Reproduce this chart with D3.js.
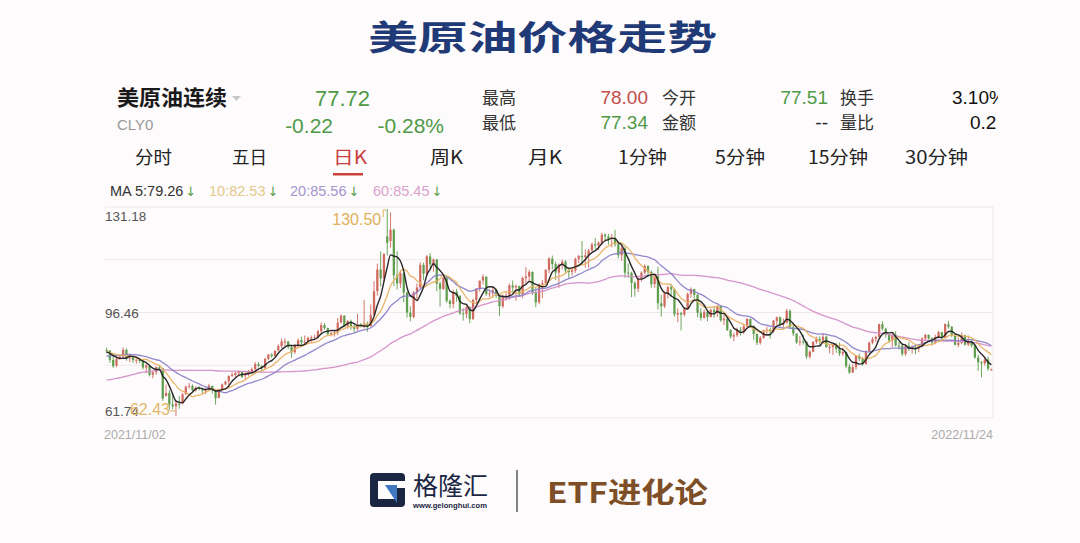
<!DOCTYPE html>
<html><head><meta charset="utf-8">
<script src="https://cdn.jsdelivr.net/npm/d3@7"></script>
<style>html,body{margin:0;padding:0;background:#fdfbfb;}svg{display:block}</style>
</head><body><svg id="c" width="1080" height="543"></svg>
<script>
// ---------------- DATA ----------------
const titleText = "美原油价格走势";
const instrumentName = "美原油连续";
const instrumentCode = "CLY0";
const lastPrice = "77.72";
const changeAbs = "-0.22";
const changePct = "-0.28%";
const statLabels = ["最高", "最低", "今开", "金额", "换手", "量比"];
const statValues = ["78.00", "77.34", "77.51", "--", "3.10%", "0.2"];
const tabLabels = ["分时", "五日", "日K", "周K", "月K", "1分钟", "5分钟", "15分钟", "30分钟"];
const activeTab = 2;
const maPeriods = [5, 10, 20, 60];
const maLegendValues = [79.26, 82.53, 85.56, 85.45];
const yTickValues = [131.18, 96.46, 61.74];
const dateLabels = ["2021/11/02", "2022/11/24"];
const brandName = "格隆汇";
const brandUrl = "www.gelonghui.com";
const footerText = "ETF进化论";

// closes before the first visible day (2021/08/09 .. 2021/11/01), used for the moving averages
const historyCloses = [66.48,68.29,69.25,69.09,68.44,67.29,66.59,65.46,63.69,62.32,65.64,67.54,68.36,67.42,68.74,69.21,68.50,
68.59,69.99,69.29,68.35,69.30,67.71,69.72,70.45,70.46,72.61,72.61,71.97,70.29,70.49,72.23,73.30,73.98,75.45,75.29,74.83,75.03,
75.88,77.62,78.93,77.43,78.30,79.35,80.52,80.64,80.44,81.31,82.28,82.44,82.96,83.87,82.50,83.76,83.76,84.65,82.66,82.81,83.57,
84.05];

// daily candles 2021/11/02 .. 2022/11/24
const opens = [
84.05,83.95,80.86,79.00,81.50,81.95,84.20,81.40,81.60,80.70,80.80,80.60,78.30,78.90,76.00,76.80,78.40,78.10,69.00,70.00,
66.20,65.60,66.40,66.50,69.60,72.10,72.30,70.90,71.70,71.20,70.70,70.90,72.30,70.50,68.40,71.10,72.80,73.80,75.60,75.90,76.50,76.90,
75.70,76.10,76.90,77.80,79.50,78.90,78.20,81.20,82.60,82.10,84.00,85.40,86.90,86.90,85.10,83.40,85.60,87.40,86.60,87.00,
88.20,88.20,88.30,90.30,92.30,91.30,89.40,89.70,89.90,93.20,95.40,92.10,93.60,91.80,91.10,92.40,92.10,92.80,92.00,
95.70,103.50,110.60,107.70,121.50,120.00,123.70,108.70,106.00,109.30,103.00,96.40,95.00,103.00,104.70,112.10,109.30,114.90,112.30,113.90,106.00,104.20,107.80,
100.30,99.30,103.30,102.00,96.20,96.00,98.30,94.30,100.60,104.30,107.00,108.20,102.60,102.80,103.80,102.10,98.50,101.70,102.00,105.40,
104.70,105.20,102.40,107.80,108.30,109.80,103.10,99.80,105.70,106.10,110.50,114.20,112.40,109.60,112.20,113.20,110.30,109.80,110.30,114.10,115.10,
114.70,115.30,116.90,118.90,118.50,119.40,122.10,121.50,120.70,120.90,118.90,115.30,117.60,109.60,109.50,106.20,104.30,107.60,109.60,111.80,109.80,
105.80,108.40,99.50,98.50,102.70,104.80,104.10,95.80,96.30,95.80,97.60,102.60,104.20,102.30,96.40,94.70,96.70,95.00,97.30,96.40,
98.60,93.90,94.40,90.70,88.50,89.00,90.80,90.50,91.90,94.30,92.10,89.40,86.50,88.10,90.50,90.80,90.20,93.70,94.90,92.50,93.10,97.00,91.60,
89.50,86.60,86.90,86.90,81.90,83.50,86.80,87.80,87.30,88.50,85.10,85.10,85.70,84.40,82.90,83.50,78.70,76.70,78.50,82.10,81.20,
79.50,83.60,86.50,87.80,88.50,92.60,91.10,89.30,87.30,89.10,85.60,85.50,82.80,85.50,84.50,85.00,84.60,85.30,87.90,89.10,87.90,
86.50,88.40,90.00,88.20,92.60,91.80,88.90,85.80,86.50,88.90,85.90,86.90,85.60,81.60,80.10,79.70,81.00,77.51];
const highs = [
84.88,84.07,83.15,81.80,82.50,84.97,84.66,82.50,82.00,81.40,81.50,80.80,79.60,79.20,77.20,78.70,78.90,78.30,72.70,70.90,
69.50,67.60,69.00,70.00,72.40,73.34,72.80,72.20,72.30,71.60,71.50,73.00,72.40,70.90,71.40,73.10,73.90,75.80,76.80,77.00,77.40,77.00,
76.80,77.60,78.40,80.20,80.20,79.20,81.50,82.80,83.10,84.10,86.00,87.90,87.90,87.10,86.00,86.10,87.90,88.50,88.84,88.50,
88.90,89.20,90.80,93.17,93.00,91.50,90.30,90.80,94.66,95.82,95.60,94.00,94.10,92.50,96.00,93.00,100.54,93.50,99.10,
106.78,112.51,116.57,116.02,130.50,129.44,124.10,116.60,110.40,109.70,103.30,98.50,103.50,106.00,113.00,112.90,115.40,116.00,114.20,114.10,106.60,108.30,108.20,
100.80,104.00,104.20,102.10,97.90,98.90,98.40,101.00,104.50,106.90,109.00,108.50,104.10,105.20,104.30,102.40,102.40,103.00,106.00,107.00,
105.70,105.30,108.30,111.37,110.50,110.00,104.60,106.00,107.20,110.70,114.70,115.20,113.20,112.60,113.80,113.70,110.80,111.00,114.50,115.40,119.98,
117.20,117.40,119.40,120.99,119.90,122.70,122.50,122.40,122.30,123.68,119.70,118.80,118.00,112.60,109.90,106.80,108.00,110.00,112.30,112.00,110.30,
109.10,111.50,102.30,103.30,105.20,105.80,104.40,97.80,96.70,98.20,103.00,104.70,104.30,102.60,97.90,97.40,97.40,97.80,98.30,99.00,
98.80,95.70,94.70,91.00,89.80,91.50,91.70,92.70,94.70,94.50,92.10,89.60,88.70,90.80,91.80,91.50,94.00,95.10,95.10,94.50,97.70,97.50,92.20,
89.60,88.70,89.20,86.90,84.10,87.00,88.50,88.60,89.70,88.90,85.80,86.00,86.40,86.60,84.90,83.60,79.60,79.40,82.40,82.90,81.70,
84.00,86.90,88.40,88.90,92.80,93.60,91.40,89.50,89.80,90.30,86.90,86.00,86.00,86.70,85.70,86.10,85.60,88.30,89.40,89.20,88.30,
89.20,90.40,90.10,92.90,93.70,92.00,89.60,88.30,89.90,89.20,88.90,87.50,85.80,82.50,80.50,81.70,82.00,78.00];
const lows = [
83.06,79.86,78.25,78.50,80.80,81.60,80.57,80.20,79.90,79.60,79.80,77.70,76.50,75.40,74.80,76.00,77.20,67.40,68.80,64.43,
64.60,62.43,64.80,66.30,69.30,71.40,70.40,70.40,70.80,69.90,69.60,70.60,69.80,66.12,68.20,70.70,72.50,72.60,75.20,75.30,75.90,74.90,
74.30,75.60,76.40,76.80,78.40,76.70,77.90,80.80,81.50,81.80,83.60,84.80,85.40,84.40,81.60,82.80,85.00,85.70,86.00,86.20,
86.60,87.50,87.80,89.50,90.80,88.80,88.60,88.50,89.00,92.80,91.70,91.10,90.80,89.80,90.50,91.60,91.20,90.10,91.80,
95.40,102.00,105.00,106.50,115.20,117.80,105.20,104.00,104.50,99.80,94.80,93.53,94.50,100.40,104.60,107.10,108.60,110.80,109.90,103.50,98.40,103.90,99.60,
97.80,97.90,100.00,95.70,93.80,94.60,92.93,94.00,99.40,103.30,105.70,101.90,101.50,101.40,101.20,95.28,97.90,100.40,100.70,103.20,
100.30,101.60,101.20,105.80,106.80,102.20,98.20,99.20,101.20,105.70,109.40,110.70,107.10,104.60,110.70,109.40,107.80,108.60,109.50,112.70,112.00,
111.20,111.20,116.60,117.40,117.00,118.80,120.00,118.80,117.90,118.10,114.30,113.50,107.90,107.90,101.50,101.70,103.20,106.60,109.00,108.00,104.60,
104.60,97.43,95.10,97.90,101.10,101.60,95.10,93.30,90.56,95.20,97.40,101.30,101.00,94.90,93.80,94.40,93.60,94.80,94.70,95.00,
93.40,92.40,90.40,87.90,87.00,88.40,88.90,89.30,91.50,91.80,87.50,85.73,85.90,87.80,89.30,87.90,89.80,92.50,91.90,91.60,92.80,91.00,88.70,
86.10,85.50,85.90,81.20,81.30,83.40,86.10,85.10,86.50,84.90,83.00,82.50,83.20,82.10,82.10,78.10,76.25,76.60,77.70,80.50,78.90,
79.30,83.30,86.00,86.80,88.30,90.50,88.20,86.40,85.10,85.30,84.30,82.10,82.10,83.80,82.90,82.70,83.40,85.00,87.10,87.50,85.70,
86.00,87.90,86.90,88.00,91.20,88.30,85.60,85.00,86.00,85.50,85.40,85.00,81.30,77.24,75.08,79.00,77.30,77.34];
const closes = [
83.91,80.86,78.81,81.27,81.93,84.15,81.34,81.59,80.79,80.88,80.76,78.36,79.01,75.94,76.75,78.50,78.39,68.15,69.95,66.18,
65.57,66.50,66.26,69.49,72.05,72.36,70.94,71.67,71.29,70.73,70.87,72.38,70.86,68.23,71.12,72.76,73.79,75.57,75.98,76.56,76.99,75.21,
76.08,76.99,77.85,79.46,78.90,78.23,81.22,82.64,82.12,83.82,85.43,86.96,86.90,85.14,83.31,85.60,87.35,86.61,86.82,88.15,
88.20,88.26,90.27,92.31,91.32,89.36,89.66,89.88,93.10,95.46,92.07,93.66,91.76,91.07,92.35,92.10,92.81,91.59,95.72,
103.41,110.60,107.67,115.68,119.40,123.70,108.70,106.02,109.33,103.01,96.44,95.04,102.98,104.70,112.12,109.27,114.93,112.34,113.90,105.96,104.24,107.82,100.28,
99.27,103.28,101.96,96.23,96.03,98.26,94.29,100.60,104.25,106.95,108.21,102.56,102.75,103.79,102.07,98.54,101.70,102.02,105.36,104.69,
105.17,102.41,107.81,108.26,109.77,103.09,99.76,105.71,106.13,110.49,114.20,112.40,109.59,112.21,113.23,110.29,109.77,110.33,114.09,115.07,114.67,
115.26,116.87,118.87,118.50,119.41,122.11,121.51,120.67,120.93,118.93,115.31,117.59,109.56,109.52,106.19,104.27,107.62,109.57,111.76,109.78,105.76,
108.43,99.50,98.53,102.73,104.79,104.09,95.84,96.30,95.78,97.59,102.60,104.22,102.26,96.35,94.70,96.70,94.98,97.26,96.42,98.62,
93.89,94.42,90.66,88.54,89.01,90.76,90.50,91.93,94.34,92.09,89.41,86.53,88.11,90.50,90.77,90.23,93.74,94.89,92.52,93.06,97.01,91.64,89.55,
86.61,86.87,86.88,81.94,83.54,86.79,87.78,87.31,88.48,85.10,85.11,85.73,84.45,82.94,83.49,78.74,76.71,78.50,82.15,81.23,79.49,
83.63,86.52,87.76,88.45,92.64,91.13,89.35,87.27,89.11,85.61,85.46,82.82,85.55,84.51,85.05,84.58,85.32,87.91,89.08,87.90,86.53,
88.37,90.00,88.17,92.61,91.79,88.91,85.83,86.47,88.96,85.87,86.92,85.59,81.64,80.08,79.73,80.95,77.94,77.72];

// ---------------- STYLE ----------------
const CJK = "'Noto Sans CJK SC', 'Noto Sans', sans-serif";
const NUM = "'Liberation Sans', Arial, 'Noto Sans CJK SC', sans-serif";
const UP = "#d06a5f", DOWN = "#5f9e4e";
const GREEN_TXT = "#4f9a47", RED_TXT = "#c44d4a";
const maColors = ["#1e1e1e", "#e8b264", "#8b82c9", "#d48fc8"];
const maTextColors = ["#333333", "#e4c98c", "#a497d0", "#dca2cc"];

const svg = d3.select("#c");
svg.append("rect").attr("width", 1080).attr("height", 543).attr("fill", "#fdfbfb");

// title
svg.append("text").attr("x", 368).attr("y", 50).attr("textLength", 349).attr("lengthAdjust", "spacingAndGlyphs")
  .attr("font-family", CJK).attr("font-weight", 700).attr("font-size", 34).attr("fill", "#1f3a76").text(titleText);

// header
const defs = svg.append("defs");
defs.append("clipPath").attr("id", "hclip").append("rect").attr("x", 0).attr("y", 0).attr("width", 998).attr("height", 543);
const hdr = svg.append("g").attr("clip-path", "url(#hclip)");
hdr.append("text").attr("x", 117).attr("y", 105).attr("textLength", 110).attr("lengthAdjust", "spacingAndGlyphs")
  .attr("font-family", CJK).attr("font-weight", 700).attr("font-size", 21).attr("fill", "#1a1a1a").text(instrumentName);
hdr.append("path").attr("d", "M232,96 L241,96 L236.5,101 Z").attr("fill", "#c8c8c8");
hdr.append("text").attr("x", 117).attr("y", 130).attr("font-family", NUM).attr("font-size", 15).attr("fill", "#9a9a9a").text(instrumentCode);
hdr.append("text").attr("x", 370).attr("y", 106).attr("text-anchor", "end").attr("font-family", NUM).attr("font-size", 22).attr("fill", GREEN_TXT).text(lastPrice);
hdr.append("text").attr("x", 333).attr("y", 133).attr("text-anchor", "end").attr("font-family", NUM).attr("font-size", 21).attr("fill", GREEN_TXT).text(changeAbs);
hdr.append("text").attr("x", 444).attr("y", 133).attr("text-anchor", "end").attr("font-family", NUM).attr("font-size", 21).attr("fill", GREEN_TXT).text(changePct);
const labelX = [482, 482, 662, 662, 840, 840];
const rowY = [104, 129];
statLabels.forEach((t, i) => {
  hdr.append("text").attr("x", labelX[i]).attr("y", rowY[i % 2]).attr("font-family", CJK).attr("font-size", 17)
    .attr("fill", "#333").text(t);
});
const valX = [648, 648, 828, 828, 952, 970];
const valAnchor = ["end", "end", "end", "end", "start", "start"];
const valColor = [RED_TXT, GREEN_TXT, GREEN_TXT, "#222", "#111", "#111"];
statValues.forEach((t, i) => {
  hdr.append("text").attr("x", valX[i]).attr("y", rowY[i % 2]).attr("text-anchor", valAnchor[i])
    .attr("font-family", NUM).attr("font-size", 19).attr("fill", valColor[i]).text(t);
});

// tabs
const tabX = [135, 232, 333, 430, 528, 618, 715, 808, 905];
const tabW = [37, 35, 34, 33, 34, 49, 50, 60, 63];
tabLabels.forEach((t, i) => {
  svg.append("text").attr("x", tabX[i]).attr("y", 164).attr("textLength", tabW[i]).attr("lengthAdjust", "spacingAndGlyphs")
    .attr("font-family", CJK).attr("font-size", 18).attr("fill", i === activeTab ? "#c9413e" : "#222").text(t);
});
svg.append("rect").attr("x", tabX[activeTab]).attr("y", 173).attr("width", 30).attr("height", 2.5).attr("fill", "#c9413e");

// MA legend
const legX = [110, 209, 290, 373];
maPeriods.forEach((p, i) => {
  const t = svg.append("text").attr("x", legX[i]).attr("y", 196).attr("font-family", NUM).attr("font-size", 14.5);
  t.append("tspan").attr("fill", maTextColors[i]).text((i === 0 ? "MA " : "") + p + ":" + maLegendValues[i].toFixed(2));
  t.append("tspan").attr("dx", 2).attr("fill", "#5aa04c").attr("font-family", "'DejaVu Sans', sans-serif").attr("font-size", 13).text("↓");
});

// ---------------- CHART ----------------
const n = closes.length;
const idx = d3.range(n);
const x = d3.scaleBand().domain(idx).range([105.5, 992.5]).paddingInner(0.32);
const cx = i => x(i) + x.bandwidth() / 2;
const y = d3.scaleLinear().domain([yTickValues[2], yTickValues[0]]).range([418, 207]);

// grid
const yDom = y.domain();
const gridVals = d3.range(5).map(k => yDom[0] + (yDom[1] - yDom[0]) * k / 4);
svg.append("g").selectAll("line").data(gridVals).join("line")
  .attr("x1", 105).attr("x2", 993).attr("y1", d => y(d)).attr("y2", d => y(d))
  .attr("stroke", "#efe9e9").attr("stroke-width", 1);
svg.append("line").attr("x1", 993).attr("x2", 993).attr("y1", y(yDom[1])).attr("y2", y(yDom[0]))
  .attr("stroke", "#efe9e9").attr("stroke-width", 1);

// moving averages
const all = historyCloses.concat(closes);
const h = historyCloses.length;
const maSeries = maPeriods.map(p => idx.map(i => d3.mean(all.slice(h + i - p + 1, h + i + 1))));
const line = d3.line().x((v, i) => cx(i)).y(v => y(v)).curve(d3.curveMonotoneX);

// candles
const cg = svg.append("g");
idx.forEach(i => {
  const up = closes[i] >= opens[i];
  const col = up ? UP : DOWN;
  cg.append("line").attr("x1", cx(i)).attr("x2", cx(i)).attr("y1", y(highs[i])).attr("y2", y(lows[i]))
    .attr("stroke", col).attr("stroke-width", 0.9);
  const top = y(Math.max(opens[i], closes[i])), bot = y(Math.min(opens[i], closes[i]));
  cg.append("rect").attr("x", x(i)).attr("y", top).attr("width", x.bandwidth()).attr("height", Math.max(1, bot - top)).attr("fill", col);
});

// MA lines drawn in order 60,20,10,5
[3, 2, 1, 0].forEach(k => {
  svg.append("path").datum(maSeries[k]).attr("d", line).attr("fill", "none")
    .attr("stroke", maColors[k]).attr("stroke-width", k === 0 ? 1.4 : 1.3).attr("opacity", 0.95);
});

// y axis labels
const yAxis = svg.append("g").attr("transform", "translate(105,0)")
  .call(d3.axisRight(y).tickValues(yTickValues).tickSize(0).tickPadding(0).tickFormat(d3.format(".2f")));
yAxis.select(".domain").remove();
yAxis.selectAll("text").attr("font-family", NUM).attr("font-size", 13.5).attr("fill", "#555")
  .attr("dy", (d, i) => i === 0 ? "13" : (i === 2 ? "-3" : "0.34em"));

// x axis labels
const xAxis = svg.append("g").attr("transform", "translate(0,418)")
  .call(d3.axisBottom(x).tickValues([0, n - 1]).tickSize(0).tickPadding(0).tickFormat((d, i) => dateLabels[i]));
xAxis.select(".domain").remove();
xAxis.selectAll(".tick").attr("transform", (d, i) => `translate(${i === 0 ? 104 : 993},0)`);
xAxis.selectAll("text").attr("font-family", NUM).attr("font-size", 12.5).attr("fill", "#ababab")
  .attr("y", 21).attr("dy", 0).attr("text-anchor", (d, i) => i === 0 ? "start" : "end");

// high / low annotations
const hiIdx = d3.maxIndex(highs), loIdx = d3.minIndex(lows);
const annColor = "#e0b15a";
const hx = cx(hiIdx), hy = y(highs[hiIdx]);
svg.append("text").attr("x", hx - 6).attr("y", hy + 16).attr("text-anchor", "end").attr("font-family", NUM)
  .attr("font-size", 16).attr("fill", annColor).text(highs[hiIdx].toFixed(2));
svg.append("path").attr("d", `M${hx - 4},${hy + 8} L${hx - 4},${hy + 1} L${hx - 1},${hy + 1}`).attr("fill", "none")
  .attr("stroke", annColor).attr("stroke-width", 1);
const lx = cx(loIdx), ly = y(lows[loIdx]);
svg.append("text").attr("x", lx - 6).attr("y", ly - 1).attr("text-anchor", "end").attr("font-family", NUM)
  .attr("font-size", 16).attr("fill", annColor).attr("opacity", 0.9).text(lows[loIdx].toFixed(2));
svg.append("path").attr("d", `M${lx - 6},${ly - 5} L${lx - 1},${ly - 5}`).attr("fill", "none")
  .attr("stroke", annColor).attr("stroke-width", 1);

// ---------------- FOOTER ----------------
const NAVY = "#1b2643";
const lg = svg.append("g");
lg.append("rect").attr("x", 370).attr("y", 473).attr("width", 35).attr("height", 34).attr("rx", 4).attr("fill", NAVY);
lg.append("rect").attr("x", 378).attr("y", 481).attr("width", 27).attr("height", 18).attr("fill", "#fdfbfb");
lg.append("rect").attr("x", 397).attr("y", 488).attr("width", 8).attr("height", 11).attr("fill", NAVY);
lg.append("path").attr("d", "M385,485 L397,485 L397,503 Z").attr("fill", "#3f77c0");
lg.append("text").attr("x", 413).attr("y", 495).attr("textLength", 75).attr("lengthAdjust", "spacingAndGlyphs")
  .attr("font-family", CJK).attr("font-size", 25).attr("fill", NAVY).text(brandName);
lg.append("text").attr("x", 413).attr("y", 508).attr("textLength", 74).attr("lengthAdjust", "spacingAndGlyphs")
  .attr("font-family", NUM).attr("font-weight", 700).attr("font-size", 7.5).attr("fill", NAVY).text(brandUrl);
svg.append("line").attr("x1", 517).attr("x2", 517).attr("y1", 470).attr("y2", 512).attr("stroke", "#333").attr("stroke-width", 1.2);
svg.append("text").attr("x", 547).attr("y", 503).attr("textLength", 161).attr("lengthAdjust", "spacingAndGlyphs")
  .attr("font-family", CJK).attr("font-weight", 700).attr("font-size", 28).attr("fill", "#7e4e26").text(footerText);
</script></body></html>
